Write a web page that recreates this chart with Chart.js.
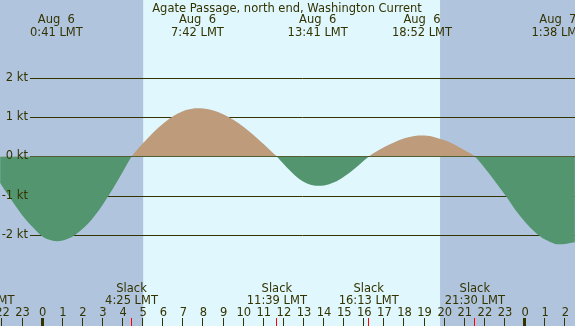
<!DOCTYPE html>
<html>
<head>
<meta charset="utf-8">
<script src="https://cdn.jsdelivr.net/npm/chart.js@4/dist/chart.umd.min.js"></script>
<style>
  html, body { margin: 0; padding: 0; background: #b0c4de; }
  canvas { display: block; }
</style>
</head>
<body>
<canvas id="tideChart" width="575" height="326"></canvas>
<script>
// Hours since Aug 6 00:00 LMT, current speed in knots
const hours = [-2.12, -2, -1.5, -1, -0.5, 0, 0.5, 0.7, 1, 1.5, 2, 2.5, 3, 3.5, 4, 4.42,
  4.5, 5, 5.5, 6, 6.5, 7, 7.5, 7.7, 8, 8.5, 9, 9.5, 10, 10.5, 11, 11.5, 11.65,
  12, 12.5, 13, 13.5, 13.68, 14, 14.5, 15, 15.5, 16, 16.22,
  16.5, 17, 17.5, 18, 18.5, 18.87, 19, 19.5, 20, 20.5, 21, 21.5,
  22, 22.5, 23, 23.5, 24, 24.5, 25, 25.5, 25.65, 26, 26.48];
const speeds = [-0.68, -0.77, -1.15, -1.51, -1.80, -2.05, -2.15, -2.16, -2.14, -2.04, -1.84, -1.57, -1.22, -0.82, -0.38, 0,
  0.05, 0.34, 0.61, 0.84, 1.03, 1.16, 1.22, 1.23, 1.22, 1.17, 1.07, 0.93, 0.75, 0.54, 0.31, 0.07, 0,
  -0.20, -0.46, -0.65, -0.74, -0.75, -0.74, -0.66, -0.51, -0.32, -0.10, 0,
  0.09, 0.24, 0.36, 0.46, 0.52, 0.53, 0.53, 0.49, 0.41, 0.30, 0.16, 0,
  -0.30, -0.63, -0.98, -1.35, -1.67, -1.93, -2.12, -2.23, -2.24, -2.23, -2.19];

// max flood / ebb events (top labels)
const peakHours = [0.68, 7.70, 13.68, 18.87, 25.63];
const peakDates = ['Aug  6', 'Aug  6', 'Aug  6', 'Aug  6', 'Aug  7'];
const peakTimes = ['0:41 LMT', '7:42 LMT', '13:41 LMT', '18:52 LMT', '1:38 LMT'];

// slack water events (bottom labels)
const slackHours = [-2.9, 4.42, 11.65, 16.22, 21.5];
const slackTimes = ['21:06 LMT', '4:25 LMT', '11:39 LMT', '16:13 LMT', '21:30 LMT'];

const ktTicks = [2, 1, 0, -1, -2];
const hourTicks = [-2, -1, 0, 1, 2, 3, 4, 5, 6, 7, 8, 9, 10, 11, 12, 13, 14, 15, 16, 17, 18, 19, 20, 21, 22, 23, 24, 25, 26];
const daylight = [5.0, 19.77];

const title = 'Agate Passage, north end, Washington Current';

const NIGHT = '#b0c4de';
const DAY = '#e0f7fe';
const FLOOD = '#bd9b7b';
const EBB = '#52956f';
const INK = '#333300';
const FONT = '11.5px "DejaVu Sans", sans-serif';

const tidePlugin = {
    id: 'tideDecor',
    beforeDraw(chart) {
        const { ctx, chartArea, scales: { x } } = chart;
        ctx.save();
        ctx.fillStyle = NIGHT;
        ctx.fillRect(chartArea.left, chartArea.top, chartArea.right - chartArea.left, chartArea.bottom - chartArea.top);
        const x0 = x.getPixelForValue(daylight[0]);
        const x1 = x.getPixelForValue(daylight[1]);
        ctx.fillStyle = DAY;
        ctx.fillRect(x0, chartArea.top, x1 - x0, chartArea.bottom - chartArea.top);
        ctx.restore();
    },
    beforeDatasetsDraw(chart) {
        const { ctx, chartArea, scales: { y } } = chart;
        ctx.save();
        ctx.strokeStyle = INK;
        ctx.lineWidth = 1;
        ktTicks.forEach(v => {
            const py = Math.round(y.getPixelForValue(v)) + 0.5;
            ctx.beginPath();
            ctx.moveTo(30, py);
            ctx.lineTo(chartArea.right, py);
            ctx.stroke();
        });
        ctx.restore();
    },
    afterDatasetsDraw(chart) {
        const { ctx, chartArea, scales: { x, y } } = chart;
        ctx.save();
        ctx.font = FONT;
        ctx.fillStyle = INK;

        // y labels
        ctx.textAlign = 'right';
        ctx.textBaseline = 'middle';
        ktTicks.forEach(v => {
            ctx.fillText(v + ' kt', 28, y.getPixelForValue(v));
        });

        ctx.textBaseline = 'alphabetic';
        ctx.textAlign = 'center';
        ctx.fillText(title, 287, 12);

        peakHours.forEach((h, i) => {
            const px = x.getPixelForValue(h);
            ctx.fillText(peakDates[i], px, 23);
            ctx.fillText(peakTimes[i], px, 35.5);
        });

        slackHours.forEach((h, i) => {
            const px = x.getPixelForValue(h);
            ctx.fillText('Slack', px, 291.5);
            ctx.fillText(slackTimes[i], px, 303.5);
        });

        // hour ticks
        hourTicks.forEach(h => {
            const px = x.getPixelForValue(h);
            const label = String(((h % 24) + 24) % 24);
            ctx.fillText(label, px, 315.5);
            if (h % 24 === 0) {
                ctx.fillRect(Math.round(px) - 2, 318, 3, chartArea.bottom - 318);
            } else {
                ctx.fillRect(Math.round(px) - 1, 318, 1, chartArea.bottom - 318);
            }
        });

        // slack marks in red
        ctx.fillStyle = '#ff0000';
        slackHours.forEach(h => {
            const px = x.getPixelForValue(h);
            ctx.fillRect(Math.round(px) - 1, 318, 1, chartArea.bottom - 318);
        });
        ctx.restore();
    }
};

new Chart(document.getElementById('tideChart'), {
    type: 'line',
    data: {
        datasets: [{
            data: hours.map((h, i) => ({ x: h, y: speeds[i] })),
            borderColor: 'rgba(0,0,0,0)',
            borderWidth: 0,
            pointRadius: 0,
            cubicInterpolationMode: 'monotone',
            fill: { target: 'origin', above: FLOOD, below: EBB }
        }]
    },
    options: {
        responsive: false,
        animation: false,
        layout: { padding: 0 },
        plugins: { legend: { display: false }, tooltip: { enabled: false }, title: { display: false } },
        scales: {
            x: { type: 'linear', min: -2.124, max: 26.483, display: false },
            y: { min: -4.321, max: 3.985, display: false }
        }
    },
    plugins: [tidePlugin]
});
</script>
</body>
</html>
